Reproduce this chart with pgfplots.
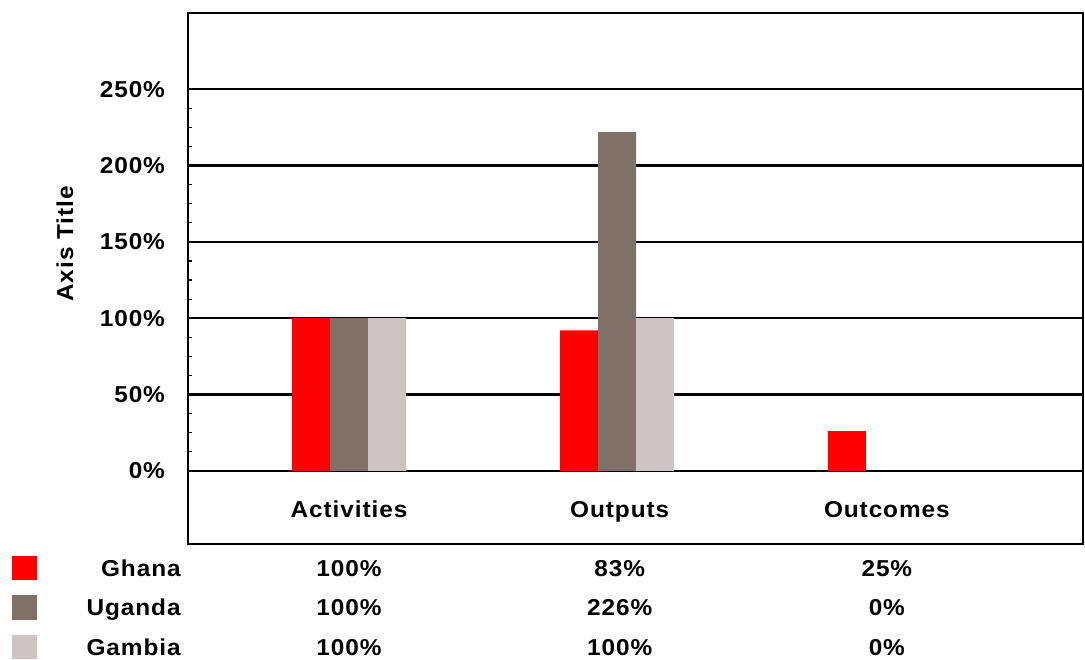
\documentclass[border=0pt]{standalone}
\usepackage{fontspec}
\setmainfont{Liberation Sans}[LetterSpace=4, FakeStretch=1.06]
\usepackage{pgfplots}
\pgfplotsset{compat=1.18}

\definecolor{ghana}{RGB}{255,0,0}
\definecolor{uganda}{RGB}{128,112,104}
\definecolor{gambia}{RGB}{206,196,196}

\begin{document}
\begin{tikzpicture}[lbl/.style={text height=8.4pt, text depth=0pt, inner sep=0pt}]
\useasboundingbox (0,0) rectangle (542.5pt,-329.5pt);
\begin{axis}[
    at={(94pt,-6.5pt)}, anchor=north west,
    scale only axis, width=447.5pt, height=265.5pt,
    xmin=-0.601, xmax=2.739,
    ymin=-48, ymax=300,
    ybar, bar width=19pt,
    xtick=\empty,
    ytick={0,50,100,150,200,250},
    yticklabels={0\%,50\%,100\%,150\%,200\%,250\%},
    ytick pos=left,
    minor y tick num=3,
    tick align=inside,
    major tick length=3pt, minor tick length=2pt,
    ymajorgrids,
    major grid style={black, line width=1.1pt},
    axis line style={line width=1pt},
    yticklabel style={anchor=east, xshift=-8pt},
    tick style={black, line width=0.6pt},
    clip=false,
    font=\bfseries\fontsize{11.5}{13}\selectfont,
]
% Ghana
\addplot[fill=ghana, draw=none, bar shift=-19pt] coordinates {(0,100) (1,92) (2,26)};
% Uganda
\addplot[fill=uganda, draw=none, bar shift=0pt] coordinates {(0,100) (1,222)};
% Gambia
\addplot[fill=gambia, draw=none, bar shift=19pt] coordinates {(0,100) (1,100)};

% axis title
\node[rotate=90] at (axis cs:-1.06,148.7) {Axis Title};

% category labels
\node[lbl] at (axis cs:0,-25.1) {Activities};
\node[lbl] at (axis cs:1.01,-25.1) {Outputs};
\node[lbl] at (axis cs:2.007,-25.1) {Outcomes};

% data table
\fill[ghana]  (axis cs:-1.257,-55.9) rectangle (axis cs:-1.164,-71.6);
\fill[uganda] (axis cs:-1.257,-81.5) rectangle (axis cs:-1.164,-97.9);
\fill[gambia] (axis cs:-1.257,-107.7) rectangle (axis cs:-1.164,-123.4);

\node[lbl, anchor=east] at (axis cs:-0.627,-63.8) {Ghana};
\node[lbl, anchor=east] at (axis cs:-0.627,-89.3) {Uganda};
\node[lbl, anchor=east] at (axis cs:-0.627,-115.5) {Gambia};

\node[lbl] at (axis cs:0,-63.8) {100\%};
\node[lbl] at (axis cs:1.01,-63.8) {83\%};
\node[lbl] at (axis cs:2.007,-63.8) {25\%};
\node[lbl] at (axis cs:0,-89.3) {100\%};
\node[lbl] at (axis cs:1.01,-89.3) {226\%};
\node[lbl] at (axis cs:2.007,-89.3) {0\%};
\node[lbl] at (axis cs:0,-115.5) {100\%};
\node[lbl] at (axis cs:1.01,-115.5) {100\%};
\node[lbl] at (axis cs:2.007,-115.5) {0\%};
\end{axis}
\end{tikzpicture}
\end{document}
